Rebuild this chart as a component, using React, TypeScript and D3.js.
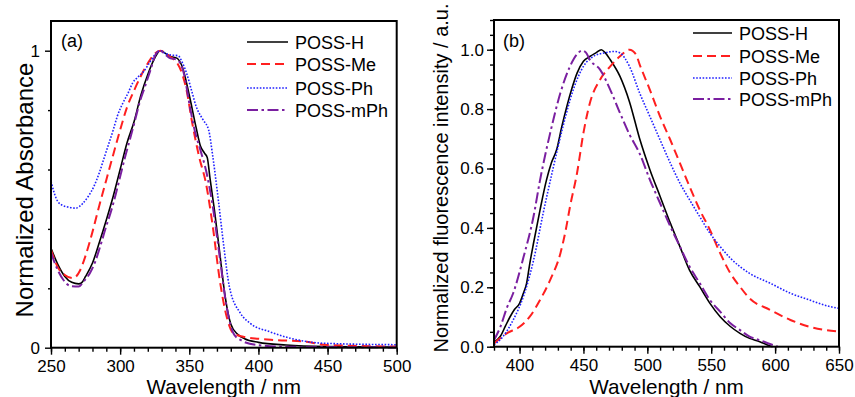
import React, { useEffect, useRef } from 'react';
import * as d3 from 'd3';

type Pt = [number, number];

const seriesNames = ['POSS-H', 'POSS-Me', 'POSS-Ph', 'POSS-mPh'];
const seriesColors = ['#000000', '#ff1f1f', '#2020ff', '#7a1fa0'];
const seriesDash = ['none', '9,5', '1.6,1.6', '11,3.5,2.5,3.5'];
const seriesWidth = [1.6, 2, 1.6, 2];

// (a) normalized absorbance, wavelength in nm
const absH: Pt[] = [[250, 0.335], [255, 0.28], [260, 0.24], [265, 0.22], [270, 0.215], [272, 0.218], [275, 0.24], [280, 0.285], [285, 0.355], [290, 0.43], [295, 0.51], [300, 0.6], [305, 0.69], [310, 0.76], [315, 0.85], [320, 0.92], [325, 0.975], [329, 1.0], [333, 0.99], [337, 0.98], [341, 0.975], [345, 0.945], [350, 0.85], [355, 0.74], [358, 0.68], [361, 0.655], [363, 0.64], [365, 0.57], [368, 0.47], [372, 0.32], [376, 0.17], [380, 0.08], [385, 0.045], [390, 0.03], [400, 0.018], [420, 0.009], [450, 0.004], [500, 0.002]];
const absMe: Pt[] = [[250, 0.33], [255, 0.27], [260, 0.245], [266, 0.234], [271, 0.26], [275, 0.31], [280, 0.39], [285, 0.48], [290, 0.565], [295, 0.65], [300, 0.733], [305, 0.81], [310, 0.865], [315, 0.915], [321, 0.965], [325, 0.99], [329, 1.0], [336, 0.98], [341, 0.96], [345, 0.92], [348, 0.868], [352, 0.76], [357, 0.645], [362, 0.555], [367, 0.408], [372, 0.229], [377, 0.105], [382, 0.048], [389, 0.037], [400, 0.03], [411, 0.026], [435, 0.02], [447, 0.01], [471, 0.006], [500, 0.004]];
const absPh: Pt[] = [[250, 0.56], [254, 0.5], [258, 0.48], [262, 0.474], [268, 0.47], [273, 0.486], [277, 0.51], [281, 0.543], [285, 0.59], [288, 0.633], [292, 0.69], [295, 0.733], [298, 0.78], [302, 0.824], [306, 0.86], [309, 0.891], [313, 0.912], [317, 0.93], [321, 0.958], [325, 0.985], [329, 1.0], [333, 0.99], [336, 0.986], [342, 0.983], [345, 0.96], [348, 0.925], [352, 0.86], [355, 0.812], [360, 0.767], [364, 0.733], [367, 0.644], [371, 0.498], [375, 0.34], [379, 0.205], [387, 0.116], [394, 0.082], [408, 0.054], [423, 0.032], [447, 0.015], [500, 0.01]];
const absMPh: Pt[] = [[250, 0.32], [255, 0.26], [259, 0.228], [264, 0.208], [270, 0.206], [274, 0.225], [278, 0.25], [282, 0.29], [285.5, 0.34], [290, 0.41], [293, 0.453], [297, 0.52], [300, 0.576], [304, 0.65], [307, 0.7], [311, 0.77], [314, 0.824], [318, 0.88], [322, 0.936], [326, 0.99], [329, 1.0], [333, 0.985], [336, 0.975], [341, 0.97], [346, 0.925], [350.5, 0.81], [354, 0.73], [358, 0.666], [362, 0.599], [367, 0.475], [372, 0.306], [377, 0.138], [382, 0.048], [387, 0.026], [399, 0.009], [423, 0.003], [500, 0.001]];

// (b) normalized fluorescence intensity
const plH: Pt[] = [[380, 0.015], [385, 0.035], [389, 0.07], [392.5, 0.1], [396, 0.125], [400, 0.146], [403, 0.18], [405.5, 0.213], [408, 0.28], [411, 0.35], [416, 0.46], [421, 0.56], [425, 0.62], [429, 0.663], [433, 0.74], [437, 0.809], [441, 0.87], [445, 0.921], [450, 0.961], [455, 0.977], [460, 0.99], [464, 1.0], [467, 0.99], [471, 0.966], [478.6, 0.91], [486, 0.825], [494, 0.7], [502, 0.596], [510, 0.506], [518, 0.416], [525.5, 0.337], [533, 0.258], [541, 0.202], [549, 0.146], [557, 0.101], [565, 0.068], [572.5, 0.045], [580, 0.028], [588, 0.017], [594, 0.006], [598, 0]];
const plMe: Pt[] = [[380, 0.011], [390, 0.045], [400, 0.067], [408, 0.101], [416, 0.157], [424, 0.225], [432, 0.315], [436, 0.39], [439.5, 0.472], [445, 0.585], [450, 0.72], [455, 0.82], [463, 0.899], [471, 0.944], [478.6, 0.978], [486, 1.0], [491, 0.985], [494, 0.95], [502, 0.865], [510, 0.775], [518, 0.696], [525.5, 0.618], [533, 0.54], [541, 0.461], [549, 0.393], [557, 0.315], [565, 0.247], [572.5, 0.202], [580, 0.163], [596, 0.124], [612, 0.09], [627, 0.067], [650, 0.051]];
const plPh: Pt[] = [[380, 0.006], [387, 0.034], [395, 0.09], [403, 0.169], [411, 0.292], [418.5, 0.45], [426, 0.596], [434, 0.742], [442, 0.865], [450, 0.944], [458, 0.978], [466, 0.989], [474, 0.994], [478.6, 0.989], [486, 0.944], [494, 0.854], [502, 0.775], [510, 0.696], [518, 0.618], [525.5, 0.551], [533, 0.495], [541, 0.438], [549, 0.382], [557, 0.337], [565, 0.298], [580, 0.247], [596, 0.214], [612, 0.18], [627, 0.157], [643, 0.135], [650, 0.129]];
const plMPh: Pt[] = [[380, 0.022], [385, 0.067], [390, 0.13], [395, 0.18], [403, 0.3], [411, 0.44], [416, 0.56], [424, 0.72], [432, 0.855], [439.5, 0.944], [445, 0.985], [449, 0.997], [452, 0.99], [455, 0.966], [463, 0.933], [471, 0.865], [478.6, 0.787], [486, 0.715], [494, 0.65], [502, 0.562], [510, 0.483], [518, 0.405], [525.5, 0.337], [533, 0.27], [541, 0.214], [549, 0.157], [557, 0.118], [565, 0.079], [572.5, 0.056], [580, 0.034], [588, 0.022], [596, 0.009], [602, 0]];

const absXTicks = [250, 300, 350, 400, 450, 500];
const absYTicks = [0, 1];
const plXTicks = [400, 450, 500, 550, 600, 650];
const plYTicks = [0, 0.2, 0.4, 0.6, 0.8, 1.0];

const FONT = "Arial, 'Liberation Sans', sans-serif";

function drawPanel(g, p) {
  const x = d3.scaleLinear().domain(p.xDomain).range([p.left, p.right]);
  const y = d3.scaleLinear().domain([0, 1.1]).range([p.bottom, p.top]);

  // minor ticks
  g.append('g')
    .attr('transform', `translate(0, ${p.bottom})`)
    .call(d3.axisBottom(x).tickValues(p.xMinor).tickSize(4).tickFormat(() => ''))
    .call(s => s.select('.domain').remove());
  g.append('g')
    .attr('transform', `translate(${p.left}, 0)`)
    .call(d3.axisLeft(y).tickValues(p.yMinor).tickSize(p.yMinorSize).tickFormat(() => ''))
    .call(s => s.select('.domain').remove());

  // major ticks
  g.append('g')
    .attr('transform', `translate(0, ${p.bottom})`)
    .call(d3.axisBottom(x).tickValues(p.xTicks).tickSize(7).tickPadding(5).tickFormat(d3.format('d')))
    .call(s => s.select('.domain').remove())
    .attr('font-size', 17).attr('font-family', FONT);
  g.append('g')
    .attr('transform', `translate(${p.left}, 0)`)
    .call(d3.axisLeft(y).tickValues(p.yTicks).tickSize(p.yMajorSize).tickPadding(p.yPad).tickFormat(p.yFormat))
    .call(s => s.select('.domain').remove())
    .attr('font-size', 17).attr('font-family', FONT);

  g.selectAll('.tick line').attr('stroke', '#000').attr('stroke-width', 1.4);
  g.selectAll('.tick text').attr('fill', '#000');

  // curves
  const line = d3.line<Pt>().x(d => x(d[0])).y(d => y(d[1])).curve(d3.curveMonotoneX);
  g.selectAll('.curve')
    .data(p.series)
    .join('path')
    .attr('class', 'curve')
    .attr('d', d => line(d))
    .attr('fill', 'none')
    .attr('stroke', (d, i) => seriesColors[i])
    .attr('stroke-width', (d, i) => seriesWidth[i])
    .attr('stroke-dasharray', (d, i) => seriesDash[i]);

  // frame
  g.append('rect')
    .attr('x', p.left).attr('y', p.top)
    .attr('width', p.right - p.left).attr('height', p.bottom - p.top)
    .attr('fill', 'none').attr('stroke', '#000').attr('stroke-width', 2);

  // panel label
  g.append('text')
    .attr('x', p.left + p.labelDx).attr('y', 47)
    .attr('font-size', 18).attr('font-family', FONT)
    .text(p.label);

  // legend
  const leg = g.selectAll('.leg')
    .data(seriesNames)
    .join('g')
    .attr('class', 'leg')
    .attr('transform', (d, i) => `translate(${p.legX}, ${p.legY[i]})`);
  leg.append('line')
    .attr('x1', 0).attr('x2', p.legLen).attr('y1', 0).attr('y2', 0)
    .attr('stroke', (d, i) => seriesColors[i])
    .attr('stroke-width', (d, i) => seriesWidth[i])
    .attr('stroke-dasharray', (d, i) => seriesDash[i]);
  leg.append('text')
    .attr('x', p.legLen + 7).attr('y', 6.5)
    .attr('font-size', 18).attr('font-family', FONT)
    .text(d => d);

  // axis titles
  g.append('text')
    .attr('x', (p.left + p.right) / 2).attr('y', 394)
    .attr('text-anchor', 'middle')
    .attr('font-size', 20.7).attr('font-family', FONT)
    .text('Wavelength / nm');
  g.append('text')
    .attr('transform', `translate(${p.yTitleX}, ${p.yTitleY}) rotate(-90)`)
    .attr('text-anchor', 'middle')
    .attr('font-size', p.yTitleSize).attr('font-family', FONT)
    .text(p.yTitle);
}

export default function App() {
  const ref = useRef<SVGSVGElement>(null);

  useEffect(() => {
    const svg = d3.select(ref.current);
    svg.selectAll('*').remove();

    drawPanel(svg.append('g'), {
      left: 51, right: 396.7, top: 21, bottom: 347.7,
      xDomain: [250, 500],
      xTicks: absXTicks,
      xMinor: d3.range(250, 501, 10),
      yTicks: absYTicks,
      yMinor: [0.2, 0.4, 0.6, 0.8],
      yMajorSize: 6, yMinorSize: 3, yPad: 5,
      yFormat: d3.format('d'),
      series: [absH, absMe, absPh, absMPh],
      label: '(a)', labelDx: 10,
      legX: 247, legLen: 41, legY: [42, 64, 88, 110],
      yTitle: 'Normalized Absorbance', yTitleX: 33, yTitleY: 190, yTitleSize: 24,
    });

    drawPanel(svg.append('g'), {
      left: 494, right: 839, top: 20, bottom: 346.7,
      xDomain: [380, 650],
      xTicks: plXTicks,
      xMinor: d3.range(380, 651, 10),
      yTicks: plYTicks,
      yMinor: d3.range(0, 1.11, 0.05),
      yMajorSize: 7, yMinorSize: 4, yPad: 3,
      yFormat: d3.format('.1f'),
      series: [plH, plMe, plPh, plMPh],
      label: '(b)', labelDx: 9,
      legX: 693, legLen: 39, legY: [33, 56, 78, 99],
      yTitle: 'Normalized fluorescence intensity / a.u.', yTitleX: 448, yTitleY: 178, yTitleSize: 20,
    });
  }, []);

  return (
    <svg
      ref={ref}
      width={855}
      height={397}
      style={{ position: 'absolute', left: 0, top: 0, background: '#fff' }}
    />
  );
}
